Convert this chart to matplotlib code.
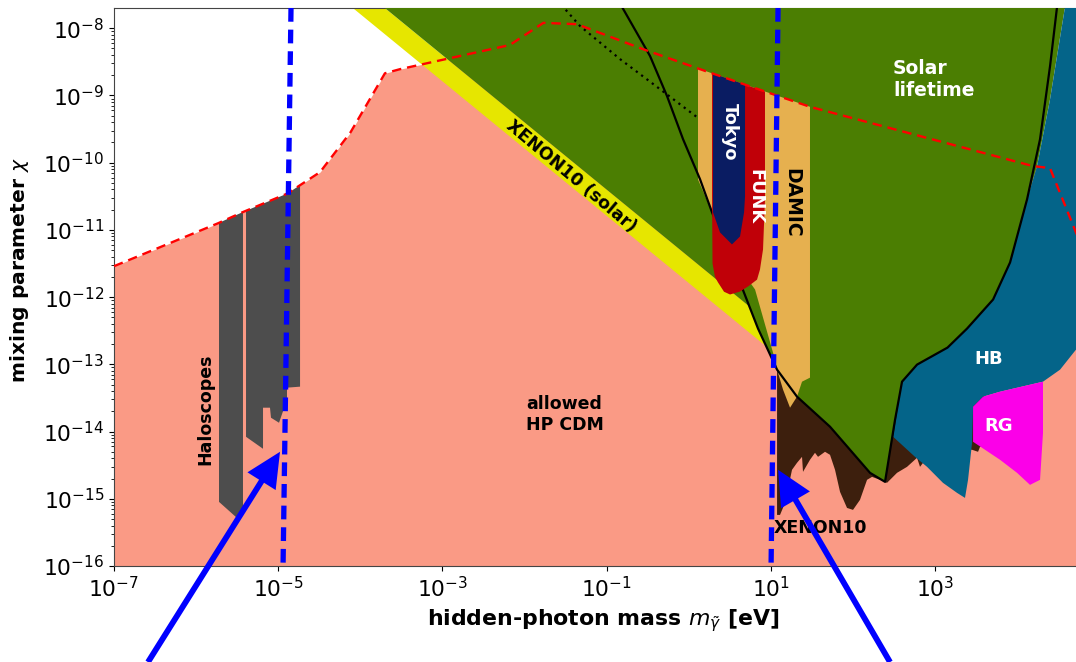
import numpy as np
import matplotlib.pyplot as plt
from matplotlib.patches import FancyArrowPatch
from matplotlib.ticker import NullLocator

# everything below is log10(mass / eV) and log10(chi)

# upper edge of the allowed HP CDM region (red dashed)
cdm_logm = [-7.0, -5.73, -5.44, -4.89, -4.49, -4.12, -3.70, -3.52, -2.18, -1.77,
            -1.36, -0.56, 0.14, 0.95, 1.48, 4.19, 4.40, 4.80]
cdm_logchi = [-11.54, -10.90, -10.74, -10.46, -10.14, -9.55, -8.67, -8.61, -8.25, -7.92,
              -7.94, -8.31, -8.61, -8.95, -9.17, -10.05, -10.08, -11.29]

# XENON10 (solar) band: log chi = offset - log m
xe_solar_lo = -11.79
xe_solar_hi = -11.40
xe_solar_logm = [-4.3, 0.946]

# solar lifetime boundary (solid black)
sun_logm = [-0.85, -0.812, -0.471, -0.264, -0.069, 0.138, 0.284, 0.649, 0.844, 1.076,
            1.319, 1.721, 2.208, 2.391, 2.513, 2.598, 2.781, 3.152, 3.390, 3.707,
            3.914, 4.121, 4.279, 4.401, 4.486, 4.50]
sun_logchi = [-7.60, -7.684, -8.414, -9.010, -9.651, -10.247, -10.739, -11.857, -12.468, -13.079,
              -13.481, -13.928, -14.614, -14.748, -13.824, -13.258, -13.004, -12.751, -12.468, -12.036,
              -11.484, -10.545, -9.651, -8.563, -7.684, -7.55]

# where the green meets the yellow band, and left edge of HB at the top
green_corner_logm = [-3.9, 0.739]
green_corner_logchi = [-7.5, -12.139]
hb_edge_logm = [4.242, 4.401, 4.583, 4.60]
hb_edge_logchi = [-10.054, -9.055, -7.684, -7.5]

# dotted black line
dot_logm = [-1.55, -1.507, -1.324, -0.837, -0.350, 0.101]
dot_logchi = [-7.65, -7.714, -7.967, -8.459, -8.906, -9.323]

# HB
hb_logm = [4.60, 4.85, 4.85, 4.717, 4.523, 4.315, 3.792, 3.585, 3.463, 3.451, 3.402, 3.365,
           3.268, 3.097, 2.903, 2.756, 2.49, 2.598, 2.781, 3.152, 3.390, 3.707, 3.914, 4.121,
           4.242, 4.401, 4.583]
hb_logchi = [-7.5, -7.5, -12.58, -12.781, -13.079, -13.258, -13.407, -13.481, -13.630, -14.167,
             -14.718, -14.987, -14.912, -14.763, -14.525, -14.376, -14.078, -13.258, -13.004,
             -12.751, -12.468, -12.036, -11.484, -10.545, -10.054, -9.055, -7.684]

# RG
rg_logm = [3.463, 3.585, 3.792, 4.315, 4.315, 4.279, 4.157, 3.999, 3.792, 3.463]
rg_logchi = [-13.630, -13.481, -13.407, -13.258, -14.018, -14.718, -14.793, -14.614, -14.420, -14.152]

# XENON10 (DM absorption)
xe_logm = [1.076, 1.6, 3.6, 3.6, 3.548, 3.524, 3.451, 2.976, 2.903, 2.854, 2.817, 2.781, 2.659,
           2.537, 2.415, 2.330, 2.233, 2.172, 2.086, 2.001, 1.928, 1.843, 1.782, 1.721, 1.660,
           1.575, 1.538, 1.477, 1.392, 1.380, 1.319, 1.258, 1.173, 1.112, 1.076]
xe_logchi = [-13.079, -12.6, -12.6, -14.2, -14.227, -14.301, -14.271, -14.271, -14.376, -14.465,
             -14.525, -14.390, -14.525, -14.614, -14.763, -14.718, -14.674, -14.718, -15.016,
             -15.165, -15.136, -14.897, -14.569, -14.346, -14.301, -14.376, -14.316, -14.420,
             -14.599, -14.376, -14.465, -14.569, -15.061, -15.240, -15.240]

# regions whose top is the red dashed line: lower outline, right to left
damic_logm = [1.477, 1.380, 1.319, 1.234, 1.149, 1.076, 1.051, 0.808, 0.70, 0.55, 0.284, 0.113]
damic_logchi = [-13.198, -13.258, -13.481, -13.645, -13.377, -13.079, -12.93, -11.887, -11.70,
                -11.553, -10.739, -10.25]
funk_logm = [0.929, 0.905, 0.868, 0.832, 0.722, 0.625, 0.503, 0.43, 0.357, 0.32, 0.29, 0.284]
funk_logchi = [-10.545, -11.291, -11.589, -11.74, -11.842, -11.917, -11.961, -11.92, -11.782,
               -11.70, -11.5, -10.5]
tokyo_logm = [0.686, 0.674, 0.625, 0.527, 0.381, 0.296]
tokyo_logchi = [-10.5, -10.739, -11.097, -11.216, -11.037, -10.739]
halo_a_logm = [-5.429, -5.502, -5.721]
halo_a_logchi = [-15.24, -15.285, -15.046]
halo_b_logm = [-4.734, -4.893, -4.893, -4.990, -5.088, -5.100, -5.185, -5.185, -5.392]
halo_b_logchi = [-13.332, -13.347, -13.526, -13.869, -13.794, -13.645, -13.645, -14.256, -14.078]

# hand-drawn blue marks
vline1_logm = [-4.844, -4.941]
vline2_logm = [1.088, 1.003]
vline_logchi = [-7.699, -16.0]
arrow1 = [(-6.586, -17.43), (-4.978, -14.301)]
arrow2 = [(2.452, -17.43), (1.088, -14.569)]

c_cdm = '#fa9a85'
c_yellow = '#e6e600'
c_green = '#4b7e02'
c_damic = '#e6b04f'
c_funk = '#c00008'
c_tokyo = '#0a1c62'
c_xe = '#3d1f0d'
c_hb = '#046489'
c_rg = '#fb00e8'
c_halo = '#4d4d4d'


def e(v):
    return 10 ** np.asarray(v, dtype=float)


def under_cdm(lm, lc):
    # polygon whose top follows the red dashed line
    top_x = np.linspace(lm[-1], lm[0], 30)
    top_y = np.interp(top_x, cdm_logm, cdm_logchi)
    return e(np.concatenate([top_x, lm])), e(np.concatenate([top_y, lc]))


fig = plt.figure(figsize=(10.76, 6.62), dpi=100)
ax = fig.add_axes([114 / 1076, 96 / 662, 962 / 1076, 558 / 662])
ax.set_xscale('log')
ax.set_yscale('log')

ax.fill_between(e(cdm_logm), e(cdm_logchi), 1e-17, color=c_cdm, lw=0, zorder=1)

ys_lo = [xe_solar_lo - m for m in xe_solar_logm]
ys_hi = [xe_solar_hi - m for m in xe_solar_logm]
ax.fill(e(xe_solar_logm + xe_solar_logm[::-1]), e(ys_lo + ys_hi[::-1]), color=c_yellow, lw=0, zorder=2)

ax.fill(e(xe_logm), e(xe_logchi), color=c_xe, lw=0, zorder=3)

g_x = green_corner_logm + sun_logm[8:22] + hb_edge_logm
g_y = green_corner_logchi + sun_logchi[8:22] + hb_edge_logchi
ax.fill(e(g_x), e(g_y), color=c_green, lw=0, zorder=4)

for lm, lc in [(halo_a_logm, halo_a_logchi), (halo_b_logm, halo_b_logchi)]:
    x, y = under_cdm(lm, lc)
    ax.fill(x, y, color=c_halo, lw=0, zorder=5)

x, y = under_cdm(damic_logm, damic_logchi)
ax.fill(x, y, color=c_damic, lw=0, zorder=6)
ax.fill(e(hb_logm), e(hb_logchi), color=c_hb, lw=0, zorder=7)
ax.fill(e(rg_logm), e(rg_logchi), color=c_rg, lw=0, zorder=8)

ax.plot(e(sun_logm), e(sun_logchi), color='black', lw=1.6, zorder=9)
ax.plot(e(dot_logm), e(dot_logchi), color='black', lw=1.6, ls=(0, (1, 2)), zorder=9)

x, y = under_cdm(funk_logm, funk_logchi)
ax.fill(x, y, color=c_funk, lw=0, zorder=10)
x, y = under_cdm(tokyo_logm, tokyo_logchi)
ax.fill(x, y, color=c_tokyo, lw=0, zorder=11)

ax.plot(e(cdm_logm), e(cdm_logchi), color='#ff0000', lw=1.7, ls=(0, (4, 2.5)), zorder=12)

bold = dict(fontweight='bold', zorder=13)
ax.text(e(2.488), e(-8.757), 'Solar\nlifetime', color='white', fontsize=13.5, ha='left', va='center', **bold)
ax.text(e(0.503), e(-9.547), 'Tokyo', color='white', fontsize=12.8, rotation=-90, ha='center', va='center', **bold)
ax.text(e(0.808), e(-10.501), 'FUNK', color='white', fontsize=12.8, rotation=-90, ha='center', va='center', **bold)
ax.text(e(1.258), e(-10.590), 'DAMIC', color='black', fontsize=13.5, rotation=-90, ha='center', va='center', **bold)
ax.text(e(-1.434), e(-10.203), 'XENON10 (solar)', color='black', fontsize=12.5, rotation=-40,
        rotation_mode='anchor', ha='center', va='center', **bold)
ax.text(e(-5.892), e(-13.675), 'Haloscopes', color='black', fontsize=12.5, rotation=90, ha='center', va='center', **bold)
ax.text(e(-1.507), e(-13.750), 'allowed\nHP CDM', color='black', fontsize=12.5, ha='center', va='center',
        multialignment='left', **bold)
ax.text(e(1.599), e(-15.434), 'XENON10', color='black', fontsize=12.5, ha='center', va='center', **bold)
ax.text(e(3.658), e(-12.915), 'HB', color='white', fontsize=13, ha='center', va='center', **bold)
ax.text(e(3.779), e(-13.914), 'RG', color='white', fontsize=13, ha='center', va='center', **bold)

for vl in [vline1_logm, vline2_logm]:
    ax.plot(e(vl), e(vline_logchi), color='#0000ff', lw=3.8, ls=(0, (2.6, 1.5)), zorder=14)

for tail, tip in [arrow1, arrow2]:
    arr = FancyArrowPatch(e(tail), e(tip), transform=ax.transData,
                          arrowstyle='simple,head_width=2.4,head_length=2.5,tail_width=0.42',
                          mutation_scale=10, color='#0000ff', lw=0, shrinkA=0, shrinkB=0, zorder=15)
    arr.set_clip_on(False)
    ax.add_patch(arr)

ax.set_xlim(1e-7, e(4.717))
ax.set_ylim(1e-16, e(-7.699))
ax.set_xticks(e([-7, -5, -3, -1, 1, 3]))
ax.xaxis.set_minor_locator(NullLocator())
ax.set_yticks(e(np.arange(-16, -7)))
ax.tick_params(labelsize=15.7)
ax.spines['right'].set_visible(False)
for s in ['left', 'bottom', 'top']:
    ax.spines[s].set_color('#444444')

ax.set_xlabel(r'hidden-photon mass $m_{\tilde{\gamma}}$ [eV]', fontsize=15.8, fontweight='bold')
ax.xaxis.set_label_coords(0.509, -0.073)
ax.set_ylabel(r'mixing parameter $\chi$', fontsize=14.6, fontweight='bold')
ax.yaxis.set_label_coords(-0.086, 0.53)

fig.savefig('out.png', dpi=100)
